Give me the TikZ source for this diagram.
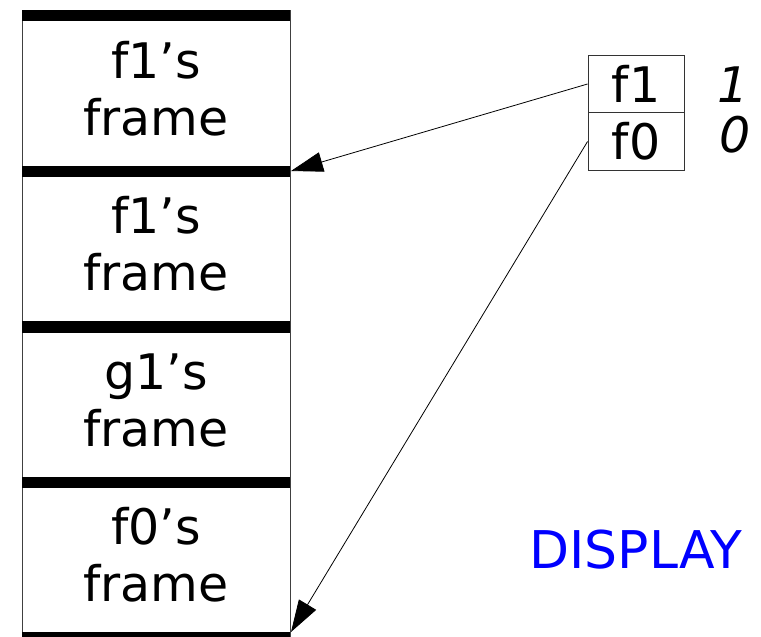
\documentclass[tikz,border=0pt]{standalone}
\usepackage{fontspec}
\setmainfont{DejaVu Sans}
\usetikzlibrary{arrows.meta}
\tikzset{
  bar/.style={fill=black, draw=none},
  framebox/.style={draw=black!75, line width=1pt},
  lbl/.style={font=\fontsize{49}{57}\selectfont, anchor=base, inner sep=0pt},
  cell/.style={draw=black!80, line width=0.9pt, minimum width=96pt, minimum height=57.5pt, inner sep=0pt, font=\fontsize{49}{57}\selectfont},
  val/.style={font=\fontsize{49}{57}\selectfont\itshape, anchor=base, inner sep=0pt},
  ptr/.style={-{Triangle[length=32pt,width=20pt]}, line width=0.8pt},
}
\begin{document}
\begin{tikzpicture}[x=1pt,y=-1pt]
\useasboundingbox (0,0) rectangle (761,637);
% stack outline
\draw[framebox] (22,10) -- (22,640);
\draw[framebox] (290,10) -- (290,640);
% bars
\fill[bar] (22,10) rectangle (290,21);
\fill[bar] (22,165.5) rectangle (290,177);
\fill[bar] (22,321) rectangle (290,332.5);
\fill[bar] (22,476.5) rectangle (290,488);
\fill[bar] (22,632) rectangle (290,643);
% frame labels
\node[lbl] (t1a) at (156,78) {f1’s};
\node[lbl] (t1b) at (156,135) {frame};
\node[lbl] (t2a) at (156,233.5) {f1’s};
\node[lbl] (t2b) at (156,290.5) {frame};
\node[lbl] (t3a) at (156,389) {g1’s};
\node[lbl] (t3b) at (156,446) {frame};
\node[lbl] (t4a) at (156,544.5) {f0’s};
\node[lbl] (t4b) at (156,601.5) {frame};
% register cells
\node[cell] (r1) at (636,84) {f1};
\node[cell] (r0) at (636,141.5) {f0};
\node[val] (v1) at (733,102) {1};
\node[val] (v0) at (735,152) {0};
% arrow targets
\coordinate (b1) at (291,171);
\coordinate (b0) at (291,632);
\draw[ptr] (r1.west) -- (b1);
\draw[ptr] (r0.west) -- (b0);
% display label
\node[lbl, text=blue, font=\fontsize{52}{60}\selectfont] (disp) at (636,568) {DISPLAY};
\end{tikzpicture}
\end{document}
